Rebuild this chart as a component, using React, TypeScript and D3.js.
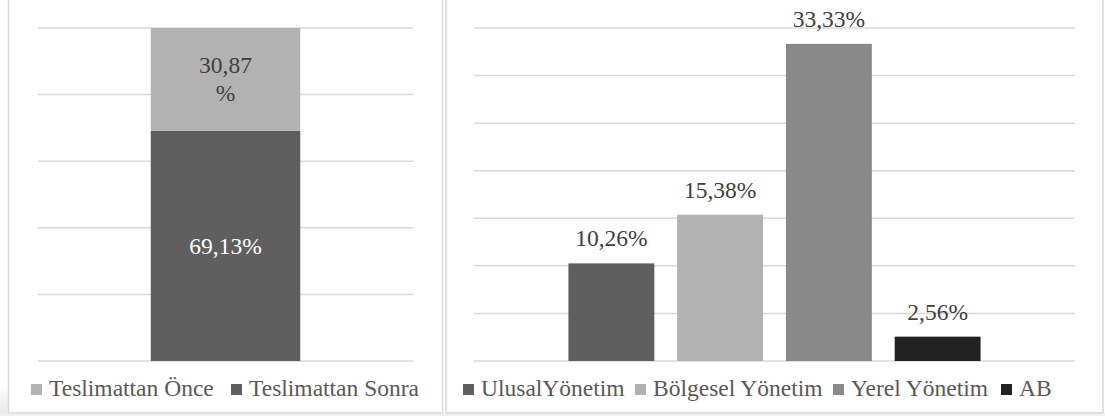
import * as d3 from 'd3';

const W = 1105;
const H = 416;

// Left chart: one stacked column
const stackNames = ['Teslimattan Önce', 'Teslimattan Sonra'];
const stackValues = [30.87, 69.13];
const stackLabels = [['30,87', '%'], ['69,13%']];
const stackColors = ['#b2b2b2', '#5f5f5f'];

// Right chart: clustered columns
const govNames = ['UlusalYönetim', 'Bölgesel Yönetim', 'Yerel Yönetim', 'AB'];
const govValues = [10.26, 15.38, 33.33, 2.56];
const govLabels = ['10,26%', '15,38%', '33,33%', '2,56%'];
const govColors = ['#5f5f5f', '#b2b2b2', '#898989', '#222222'];

const GRID = '#d9d9d9';
const TEXT = '#404040';
const LEGEND_TEXT = '#595959';
const fontStyle = { fontFamily: 'Liberation Serif', fontSize: '22.5px' };
// the source text is a bit wider than it is tall
const STRETCH = 1.045;

const PLOT_TOP = 28;
const PLOT_BOTTOM = 361;

// legend swatch x positions, as laid out in the source
const leftLegendX = [31, 231];
const rightLegendX = [463, 635, 833, 1001];

function Label({ x, y, fill, anchor, children }: {
  x: number; y: number; fill: string; anchor?: 'start' | 'middle'; children: string;
}) {
  return (
    <text
      transform={`translate(${x},${y}) scale(${STRETCH},1)`}
      textAnchor={anchor ?? 'start'}
      fill={fill}
      style={fontStyle}
    >
      {children}
    </text>
  );
}

function Legend({ names, colors, xs }: { names: string[]; colors: string[]; xs: number[] }) {
  return (
    <g>
      {names.map((n, i) => (
        <g key={n}>
          <rect x={xs[i]} y={384} width={11} height={11} fill={colors[i]} />
          <Label x={xs[i] + 18} y={396} fill={LEGEND_TEXT}>{n}</Label>
        </g>
      ))}
    </g>
  );
}

export default function App() {
  // ── Left scales ──
  const yL = d3.scaleLinear().domain([0, 100]).range([PLOT_BOTTOM, PLOT_TOP]);
  const xL = d3.scaleBand().domain(['c']).range([38, 413]).padding(0.43);
  // "Sonra" sits at the bottom of the column, "Önce" on top
  const stacked = d3.stack<number[]>().keys(['1', '0'])
    .value((d, k) => d[+k])([stackValues]);

  // ── Right scales ──
  const yR = d3.scaleLinear().domain([0, 35]).range([PLOT_BOTTOM, PLOT_TOP]);
  const xR = d3.scaleBand().domain(govNames).range([557, 992])
    .paddingInner(0.21).paddingOuter(0.105);

  const bx = xL('c')!;
  const bw = xL.bandwidth();

  return (
    <svg width={W} height={H} style={{ position: 'absolute', left: 0, top: 0, display: 'block', background: '#fff' }}>
      <defs>
        <linearGradient id="shadeV" x1="0" y1="0" x2="0" y2="1">
          <stop offset="0" stopColor="#e6e6e6" stopOpacity={0} />
          <stop offset="1" stopColor="#e6e6e6" stopOpacity={1} />
        </linearGradient>
      </defs>
      <rect x={0} y={385} width={9} height={31} fill="url(#shadeV)" />
      <rect x={0} y={413} width={W} height={3} fill="#f0f0f0" />
      <rect x={8.5} y={-10} width={434} height={423} fill="#fff" stroke={GRID} strokeWidth={1.5} />
      <rect x={446} y={-10} width={657} height={423} fill="#fff" stroke={GRID} strokeWidth={1.5} />

      {/* left chart */}
      {yL.ticks(5).map((t) => (
        <line key={t} x1={38} x2={413} y1={yL(t)} y2={yL(t)} stroke={GRID} strokeWidth={1.5} />
      ))}
      {stacked.map((layer) => {
        const i = +layer.key;
        const y0 = yL(layer[0][1]);
        const y1 = yL(layer[0][0]);
        const cy = (y0 + y1) / 2;
        const lines = stackLabels[i];
        return (
          <g key={layer.key}>
            <rect x={bx} y={y0} width={bw} height={y1 - y0} fill={stackColors[i]} />
            {lines.map((ln, j) => (
              <Label
                key={j}
                x={bx + bw / 2}
                y={cy + 8 + (j - (lines.length - 1) / 2) * 28}
                anchor="middle"
                fill={i === 1 ? '#ffffff' : TEXT}
              >
                {ln}
              </Label>
            ))}
          </g>
        );
      })}
      <Legend names={stackNames} colors={stackColors} xs={leftLegendX} />

      {/* right chart */}
      {d3.range(0, 36, 5).map((t) => (
        <line key={t} x1={474} x2={1075} y1={yR(t)} y2={yR(t)} stroke={GRID} strokeWidth={1.5} />
      ))}
      {govValues.map((v, i) => (
        <g key={govNames[i]}>
          <rect x={xR(govNames[i])!} y={yR(v)} width={xR.bandwidth()} height={yR(0) - yR(v)} fill={govColors[i]} />
          <Label
            x={xR(govNames[i])! + xR.bandwidth() / 2}
            y={yR(v) - 17}
            anchor="middle"
            fill={TEXT}
          >
            {govLabels[i]}
          </Label>
        </g>
      ))}
      <Legend names={govNames} colors={govColors} xs={rightLegendX} />
    </svg>
  );
}
